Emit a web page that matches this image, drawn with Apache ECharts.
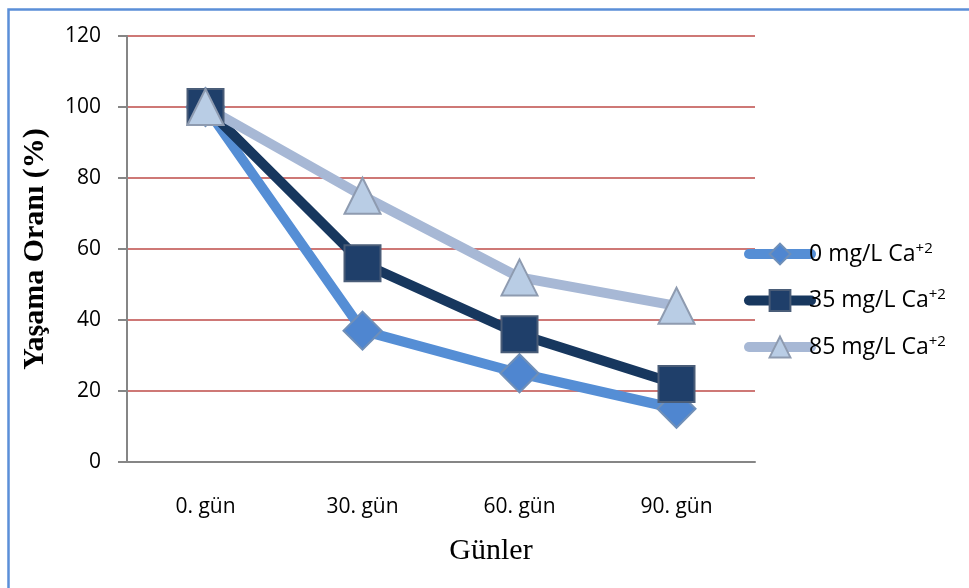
<!DOCTYPE html>
<html>
<head>
<meta charset="utf-8">
<script src="https://cdn.jsdelivr.net/npm/echarts@6/dist/echarts.min.js"></script>
<style>
  html, body { margin: 0; padding: 0; background: #fff; }
  #chart { width: 969px; height: 588px; }
</style>
</head>
<body>
<div id="chart"></div>
<script>
// Survival rate by day for three calcium concentrations
const categories = ['0. gün', '30. gün', '60. gün', '90. gün'];
const seriesNames = ['0 mg/L Ca', '35 mg/L Ca', '85 mg/L Ca'];
const ca0 = [100, 37, 25, 15];
const ca35 = [100, 56, 36, 22];
const ca85 = [100, 75, 52, 44];
const yTicks = { min: 0, max: 120, interval: 20 };

const chart = echarts.init(document.getElementById('chart'));

function makeSeries(name, data, lineColor, symbol, fill, border, size) {
  return {
    name: name,
    type: 'line',
    data: data,
    symbol: symbol,
    symbolSize: size,
    lineStyle: { color: lineColor, width: 10 },
    itemStyle: { color: fill, borderColor: border, borderWidth: 2 },
    emphasis: { disabled: true },
    animation: false
  };
}

chart.setOption({
  backgroundColor: '#ffffff',
  graphic: [{
    type: 'rect',
    shape: { x: 8.5, y: 9.5, width: 1000, height: 700 },
    style: { fill: 'none', stroke: '#5b8fd8', lineWidth: 2.5 },
    silent: true
  }],
  grid: { left: 127, right: 214, top: 36, bottom: 126, containLabel: false },
  xAxis: {
    type: 'category',
    data: categories,
    boundaryGap: true,
    axisLine: { lineStyle: { color: '#868686', width: 2 } },
    axisTick: { show: false },
    axisLabel: { color: '#000', fontSize: 21, fontFamily: 'Open Sans', margin: 35 },
    name: 'Günler',
    nameLocation: 'middle',
    nameGap: 74,
    nameTextStyle: { color: '#000', fontSize: 30, fontFamily: 'Liberation Serif', padding: [0, 0, 0, 100] }
  },
  yAxis: {
    type: 'value',
    min: yTicks.min,
    max: yTicks.max,
    interval: yTicks.interval,
    axisLine: { show: true, lineStyle: { color: '#868686', width: 2 } },
    axisTick: { show: true, length: 9, lineStyle: { color: '#868686', width: 2 } },
    splitLine: { lineStyle: { color: '#be4b48', width: 1.5 } },
    axisLabel: { color: '#000', fontSize: 21, fontFamily: 'Open Sans', margin: 26 },
    name: 'Yaşama Oranı (%)',
    nameLocation: 'middle',
    nameGap: 77,
    nameRotate: 90,
    nameTextStyle: { color: '#000', fontSize: 30, fontWeight: 'bold', fontFamily: 'Liberation Serif' }
  },
  legend: {
    orient: 'vertical',
    left: 739,
    top: 236,
    itemWidth: 62,
    itemHeight: 26,
    itemGap: 22,
    data: seriesNames,
    lineStyle: { width: 10, cap: 'round' },
    textStyle: {
      color: '#000',
      fontFamily: 'Open Sans',
      fontSize: 23,
      padding: [0, 0, 0, -7],
      rich: {
        a: { fontSize: 23, fontFamily: 'Open Sans', color: '#000' },
        s: { fontSize: 15, fontFamily: 'Open Sans', color: '#000', verticalAlign: 'top', padding: [0, 0, 11, 0] }
      }
    },
    formatter: function (n) { return '{a|' + n + '}{s|+2}'; }
  },
  series: [
    makeSeries(seriesNames[0], ca0, '#558ed5', 'diamond', '#4f86d0', '#6f8fb8', 38),
    makeSeries(seriesNames[1], ca35, '#17375e', 'rect', '#1f3f6a', '#4a5d78', 36),
    makeSeries(seriesNames[2], ca85, '#a7b8d5', 'triangle', '#b9cde5', '#8e9bb0', 36)
  ]
});
</script>
</body>
</html>
